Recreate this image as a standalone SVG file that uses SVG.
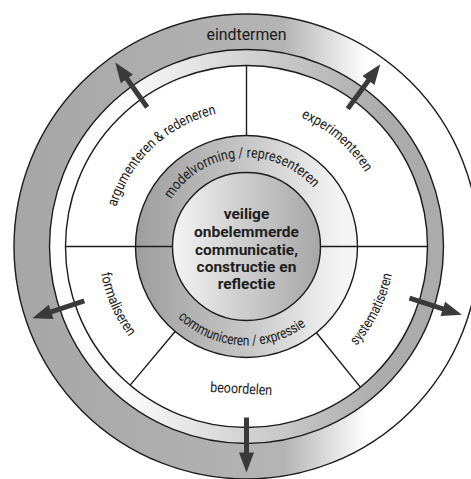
<svg xmlns="http://www.w3.org/2000/svg" width="471" height="479" viewBox="0 0 471 479">
<style>
.ln{fill:none;stroke:#1c1c1c;stroke-width:1.4}
.lbl{font-family:Roboto,"Open Sans",sans-serif;font-size:14.5px;fill:#1a1a1a}
.ctr{font-family:Roboto,"Open Sans",sans-serif;font-size:15.5px;font-weight:bold;fill:#1e1e1e;text-anchor:middle}
.arr{fill:#3a3a3a}
</style>
<defs>
<linearGradient id="gOuter" x1="0" y1="0" x2="1" y2="0">
<stop offset="0" stop-color="#a6a6a6"/><stop offset="0.58" stop-color="#b4b4b4"/><stop offset="0.76" stop-color="#ffffff"/><stop offset="1" stop-color="#ffffff"/>
</linearGradient>
<linearGradient id="gInner" x1="0" y1="0" x2="1" y2="0">
<stop offset="0" stop-color="#ffffff"/><stop offset="0.2" stop-color="#fafafa"/><stop offset="0.5" stop-color="#d2d2d2"/><stop offset="0.85" stop-color="#ababab"/>
</linearGradient>
<linearGradient id="gMid" x1="0" y1="0" x2="1" y2="0">
<stop offset="0" stop-color="#9e9e9e"/><stop offset="0.5" stop-color="#c6c6c6"/><stop offset="0.92" stop-color="#f4f4f4"/>
</linearGradient>
<linearGradient id="gCore" x1="0" y1="0" x2="1" y2="0">
<stop offset="0" stop-color="#f4f4f4"/><stop offset="0.4" stop-color="#d3d3d3"/><stop offset="1" stop-color="#a6a6a6"/>
</linearGradient>
<path id="pArg" d="M-114.06,74.07 A136,136 0 0 1 81.85,-108.61"/>
<path id="pMod" d="M-88.59,-8.53 A89,89 0 0 1 86.17,-22.28"/>
<path id="pExp" d="M-89.05,-108.03 A140,140 0 0 1 120.63,71.06"/>
<path id="pFor" d="M-82.76,-122.70 A148,148 0 0 0 35.80,143.60"/>
<path id="pSys" d="M-42.03,141.91 A148,148 0 0 0 88.03,-118.97"/>
<path id="pCom" d="M-98.36,11.21 A99,99 0 0 0 96.26,23.11"/>
<path id="arrow" d="M171,-2.5 L206,-2.5 L206,-7.5 L226,0 L206,7.5 L206,2.5 L171,2.5 Z"/>
</defs>
<rect width="471" height="479" fill="#ffffff"/>
<g transform="translate(246.5,246.5)">
<g id="eindtermen">
<circle r="232.5" class="ln" style="fill:url(#gOuter)"/>
<circle r="197" class="ln" style="fill:url(#gInner)"/>
<text class="lbl" x="0" y="-206.5" text-anchor="middle" style="font-size:17px" textLength="80" lengthAdjust="spacingAndGlyphs">eindtermen</text>
</g>
<g id="sectoren">
<circle r="181" class="ln" style="fill:#ffffff"/>
</g>
<g id="modelvorming-ring">
<circle r="111" class="ln" style="fill:url(#gMid)"/>
</g>
<g id="kern">
<circle r="74" class="ln" style="fill:url(#gCore)"/>
<text class="ctr" y="-27.5">veilige</text>
<text class="ctr" y="-9.5">onbelemmerde</text>
<text class="ctr" y="8.5">communicatie,</text>
<text class="ctr" y="25.5">constructie en</text>
<text class="ctr" y="42.5">reflectie</text>
</g>
<g id="scheidingslijnen">
<line class="ln" x1="0" y1="-181" x2="0" y2="-111"/>
<line class="ln" x1="-181" y1="0" x2="-74" y2="0"/>
<line class="ln" x1="74" y1="0" x2="181" y2="0"/>
<line class="ln" x1="-71.35" y1="85.03" x2="-116.34" y2="138.65"/>
<line class="ln" x1="69.86" y1="86.26" x2="113.91" y2="140.66"/>
</g>
<g id="argumenteren">
<text class="lbl"><textPath href="#pArg" startOffset="50%" text-anchor="middle" textLength="143" lengthAdjust="spacingAndGlyphs">argumenteren &amp; redeneren</textPath></text>
</g>
<g id="experimenteren">
<text class="lbl"><textPath href="#pExp" startOffset="50%" text-anchor="middle" textLength="86" lengthAdjust="spacingAndGlyphs">experimenteren</textPath></text>
</g>
<g id="formaliseren">
<text class="lbl"><textPath href="#pFor" startOffset="50%" text-anchor="middle" textLength="70" lengthAdjust="spacingAndGlyphs">formaliseren</textPath></text>
</g>
<g id="systematiseren">
<text class="lbl"><textPath href="#pSys" startOffset="50%" text-anchor="middle" textLength="81" lengthAdjust="spacingAndGlyphs">systematiseren</textPath></text>
</g>
<g id="beoordelen">
<text class="lbl" x="-5.5" y="147" text-anchor="middle" transform="rotate(3 -5.5 147)" textLength="62" lengthAdjust="spacingAndGlyphs">beoordelen</text>
</g>
<g id="modelvorming">
<text class="lbl"><textPath href="#pMod" startOffset="50%" text-anchor="middle" textLength="166" lengthAdjust="spacingAndGlyphs">modelvorming / representeren</textPath></text>
</g>
<g id="communiceren">
<text class="lbl"><textPath href="#pCom" startOffset="50%" text-anchor="middle" textLength="140" lengthAdjust="spacingAndGlyphs">communiceren / expressie</textPath></text>
</g>
<g id="connectors">
<use href="#arrow" class="arr" transform="rotate(234.5)"/>
<use href="#arrow" class="arr" transform="rotate(306.3)"/>
<use href="#arrow" class="arr" transform="rotate(161.5)"/>
<use href="#arrow" class="arr" transform="rotate(17.6)"/>
<use href="#arrow" class="arr" transform="rotate(90)"/>
</g>
</g>
</svg>
